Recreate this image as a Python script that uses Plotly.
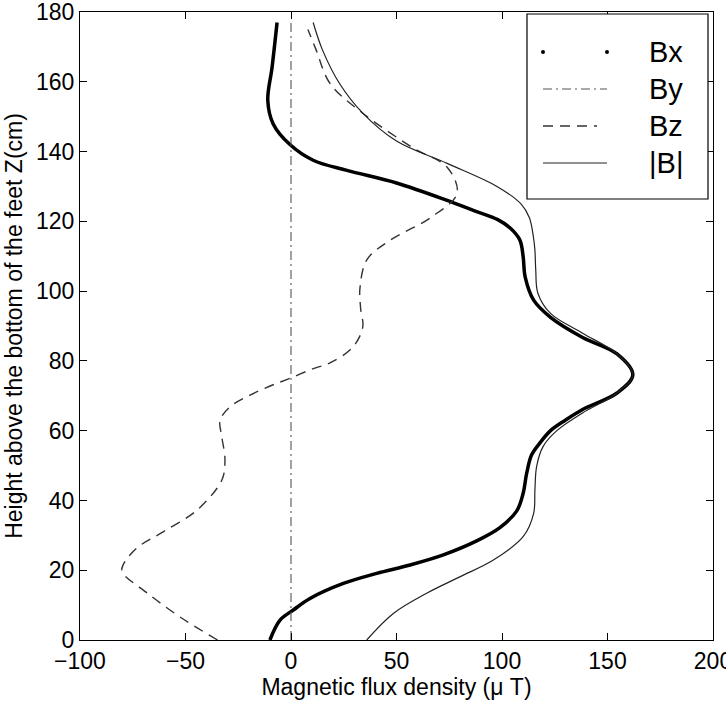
import plotly.graph_objects as go

# ---- data ----
bx_z = [0, 5.7, 8.6, 11.9, 16.2, 19.1, 21.5, 24.4, 28.4, 32.2, 37, 42, 47.8, 53, 56.5, 60, 63, 66,
        70.8, 76, 82, 86.8, 92.5, 97.4, 104, 110, 114.6, 118, 120.5, 123, 126, 131, 134.6, 137.5,
        142, 148, 154.7, 164, 177]
bx_v = [-10, -5.2, 1.1, 9, 24.8, 40.6, 56.4, 72.2, 88, 99, 107, 110, 111.7, 114, 118, 123, 130, 138,
        154.5, 162, 154.5, 138, 123, 115, 111, 110, 108.5, 104, 98, 87, 74, 50, 26.5, 10.5,
        -0.5, -8.5, -11, -9, -6.6]

by_z = [0, 177]
by_v = [0, 0]

bz_z = [0, 6.6, 13.4, 19.5, 21.5, 26.4, 31, 37.2, 45.8, 51.6, 58.3, 63, 66.8, 70.2, 72.8, 75, 77.8,
        79.4, 84, 89.7, 95, 101, 109, 114.6, 121, 128, 135.5, 141, 151, 159.5, 169, 175]
bz_v = [-34.8, -52.6, -68, -80, -79.6, -73, -60.6, -44.6, -32.8, -31.3, -32.8, -33.6, -28.9, -19.4,
        -9.9, -0.5, 10.6, 18.5, 29.4, 34, 33, 32.7, 36, 47, 66, 78.7, 74, 58, 34, 18.5, 12, 8]

bm_z = [0, 7.6, 13.4, 18.1, 22.9, 29.6, 36.3, 43, 49.7, 55.5, 60, 65, 70.8, 76, 82, 88, 93.6, 99.4,
        106, 111.7, 115, 121, 125, 130, 136.6, 143, 151, 159.5, 169, 177]
bm_v = [35.9, 48.5, 64.3, 80, 95.9, 110, 115, 115.6, 116.4, 119.5, 126, 138, 154.5, 162, 154.5,
        138, 123, 117, 116, 115.6, 115, 113, 109, 97.6, 74, 50, 34, 23, 15, 10.5]

legend_names = ["Bx", "By", "Bz", "|B|"]

FONT = "Liberation Sans, Arial, Helvetica, sans-serif"

fig = go.Figure()
fig.add_trace(go.Scatter(x=bx_v, y=bx_z, mode="lines", name=legend_names[0],
                         line=dict(color="black", width=3.5, shape="spline", smoothing=1.0)))
fig.add_trace(go.Scatter(x=by_v, y=by_z, mode="lines", name=legend_names[1],
                         line=dict(color="#555555", width=1.1, dash="9px,4px,2px,4px")))
fig.add_trace(go.Scatter(x=bz_v, y=bz_z, mode="lines", name=legend_names[2],
                         line=dict(color="#333333", width=1.4, dash="10px,7px",
                                   shape="spline", smoothing=1.0)))
fig.add_trace(go.Scatter(x=bm_v, y=bm_z, mode="lines", name=legend_names[3],
                         line=dict(color="#222222", width=1.2, shape="spline", smoothing=1.0)))

axis_common = dict(showline=True, linecolor="black", linewidth=1.2, mirror="ticks",
                   ticks="inside", ticklen=7, tickcolor="black", showgrid=False,
                   zeroline=False, automargin=False, ticklabeloverflow="allow",
                   tickfont=dict(family=FONT, size=23, color="black"))

fig.update_xaxes(range=[-100, 200], dtick=50, tick0=0,
                 title=dict(text="Magnetic flux density (\u03bc T)",
                            font=dict(family=FONT, size=23, color="black"), standoff=4),
                 **axis_common)
fig.update_yaxes(range=[0, 180], dtick=20, tick0=0,
                 title=dict(text="Height above the bottom of the feet Z(cm)",
                            font=dict(family=FONT, size=23, color="black"), standoff=6),
                 **axis_common)

# ---- manual MATLAB-style legend (pixel layout -> paper coords) ----
L, R, T, B = 80, 713, 12, 640
def px(xp):
    return (xp - L) / (R - L)
def py(yp):
    return (B - yp) / (B - T)

shapes = [dict(type="rect", xref="paper", yref="paper", x0=px(527), x1=px(708), y0=py(199), y1=py(14),
               line=dict(color="black", width=1.2), fillcolor="white", layer="above")]
rows = [52, 89, 126, 163]
# Bx: two dots
for xd in (543, 607):
    shapes.append(dict(type="circle", xref="paper", yref="paper",
                       x0=px(xd - 2), x1=px(xd + 2), y0=py(rows[0] + 2), y1=py(rows[0] - 2),
                       line=dict(color="black", width=0), fillcolor="black", layer="above"))
shapes.append(dict(type="line", xref="paper", yref="paper", x0=px(543), x1=px(607),
                   y0=py(rows[1]), y1=py(rows[1]),
                   line=dict(color="#555555", width=1.1, dash="9px,4px,2px,4px"), layer="above"))
shapes.append(dict(type="line", xref="paper", yref="paper", x0=px(543), x1=px(597),
                   y0=py(rows[2]), y1=py(rows[2]),
                   line=dict(color="#333333", width=1.4, dash="10px,7px"), layer="above"))
shapes.append(dict(type="line", xref="paper", yref="paper", x0=px(543), x1=px(607),
                   y0=py(rows[3]), y1=py(rows[3]),
                   line=dict(color="#222222", width=1.2), layer="above"))

annotations = []
for name, yr in zip(legend_names, rows):
    annotations.append(dict(xref="paper", yref="paper", x=px(647), y=py(yr), text=name,
                            showarrow=False, xanchor="left", yanchor="middle",
                            font=dict(family=FONT, size=29, color="black")))

fig.update_layout(width=726, height=703, margin=dict(l=L, r=726 - R, t=T, b=703 - B),
                  paper_bgcolor="white", plot_bgcolor="white", showlegend=False,
                  shapes=shapes, annotations=annotations,
                  font=dict(family=FONT, color="black"))

fig.write_html("out.html")
